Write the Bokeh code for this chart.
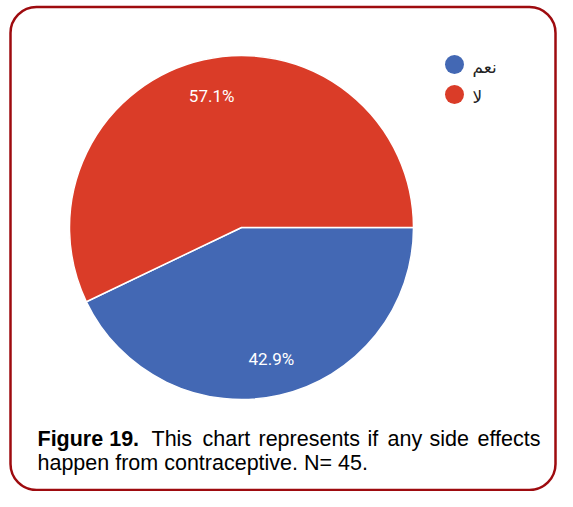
import numpy as np
from bokeh.core.properties import value
from bokeh.embed import file_html
from bokeh.models import BoxAnnotation, ColumnDataSource, Range1d
from bokeh.plotting import figure
from bokeh.resources import INLINE

# data
labels = ["نعم", "لا"]
shares = [42.9, 57.1]
colors = ["#4368B4", "#DA3C28"]

caption_bold = "Figure 19."
caption_line1 = ["This", "chart", "represents", "if", "any", "side", "effects"]
caption_line2 = "happen from contraceptive. N= 45."

W, H = 557, 491


def Y(ys):
    # pixel row -> data y
    return H - ys


p = figure(width=W, height=H, x_range=Range1d(0, W), y_range=Range1d(0, H),
           output_backend="svg", toolbar_location=None, min_border=0,
           background_fill_color="white", border_fill_color="white")
p.axis.visible = False
p.grid.visible = False
p.outline_line_color = None

# rounded frame
p.add_layout(BoxAnnotation(left=10, right=555, bottom=Y(489.5), top=Y(6.5),
                           fill_color=None, fill_alpha=0, line_color="#9E0B0F",
                           line_alpha=1, line_width=2.5, border_radius=26))

# pie, clockwise from 3 o'clock
frac = np.array(shares) / sum(shares)
ends = -np.concatenate([[0], np.cumsum(frac)[:-1]]) * 2 * np.pi
starts = ends - frac * 2 * np.pi
mids = (starts + ends) / 2
cx, cy, r = 241, Y(227), 172
src = ColumnDataSource(dict(start=starts, end=ends, color=colors,
                            lx=cx + 0.785 * r * np.cos(mids),
                            ly=cy + 0.785 * r * np.sin(mids),
                            txt=[f"{s:.1f}%" for s in shares]))
p.wedge(x=cx, y=cy, radius=r, start_angle="start", end_angle="end",
        fill_color="color", line_color="white", line_width=1.5, source=src)
p.text(x="lx", y="ly", text="txt", source=src, text_color="white",
       text_font=value("Roboto"), text_font_size="17px",
       text_align="center", text_baseline="middle")

# legend
ly = [Y(64), Y(94)]
p.scatter(x=[454] * len(labels), y=ly, size=19, fill_color=colors, line_color=None)
p.text(x=[472] * len(labels), y=[v - 2 for v in ly], text=labels, text_color="#222222",
       text_font=value("DejaVu Sans"), text_font_size="17px",
       text_align="left", text_baseline="middle")

# caption (justified first line)
p.text(x=[37], y=[Y(438)], text=[caption_bold], text_font=value("Liberation Sans"),
       text_font_size="21.5px", text_font_style="bold", text_color="black",
       text_baseline="alphabetic")
word_x = [151, 202, 258, 367, 387, 429, 477]
p.text(x=word_x, y=[Y(438)] * len(word_x), text=caption_line1,
       text_font=value("Liberation Sans"), text_font_size="21.5px", text_color="black",
       text_baseline="alphabetic")
p.text(x=[37], y=[Y(462)], text=[caption_line2], text_font=value("Liberation Sans"),
       text_font_size="21.5px", text_color="black", text_baseline="alphabetic")

open("out.html", "w").write(file_html(p, INLINE))
